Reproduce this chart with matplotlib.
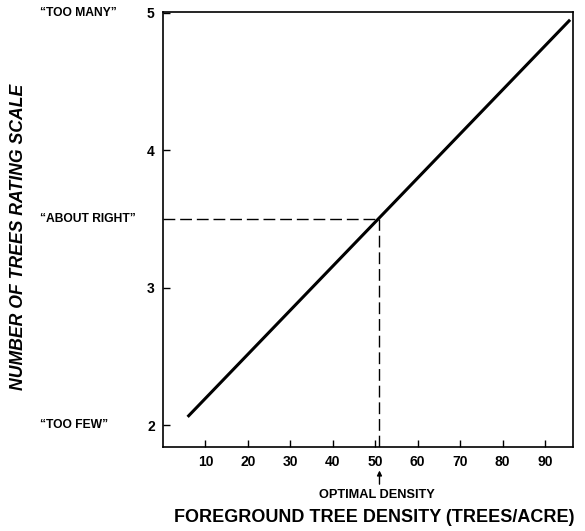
import numpy as np
from matplotlib import pyplot as plt

plt.rcParams['font.family'] = ['Liberation Sans', 'DejaVu Sans']

# rating line (density in trees/acre -> rating scale)
density = [5.8, 95.9]
rating = [2.06, 4.95]
optimal_density = 51
optimal_rating = 3.5

x_ticks = [10, 20, 30, 40, 50, 60, 70, 80, 90]
y_ticks = [2, 3, 4, 5]
scale_labels = ['\u201cTOO FEW\u201d', '\u201cABOUT RIGHT\u201d', '\u201cTOO MANY\u201d']
scale_values = [2, 3.5, 5]

fig = plt.figure(figsize=(5.85, 5.31), dpi=100)
ax = fig.add_axes([0.2786, 0.158, 0.701, 0.819])

ax.plot(density, rating, color='black', lw=2.2, solid_capstyle='butt')
ax.plot([0, optimal_density], [optimal_rating, optimal_rating],
        color='black', lw=1, ls=(0, (8.5, 3.5)))
ax.plot([optimal_density, optimal_density], [1.84, optimal_rating],
        color='black', lw=1, ls=(0, (8.5, 3.5)))

ax.set_xlim(0, 96.6)
ax.set_ylim(1.84, 5.005)
ax.set_xticks(x_ticks)
ax.set_yticks(y_ticks)
ax.tick_params(direction='in', length=5, width=1, labelsize=10, pad=6)
for lab in ax.get_xticklabels() + ax.get_yticklabels():
    lab.set_fontweight('bold')
for s in ax.spines.values():
    s.set_linewidth(1.2)

# rating scale words, placed in figure x / data y
mixed = ax.get_yaxis_transform().__class__(fig.transFigure, ax.transData)
for lbl, v in zip(scale_labels, scale_values):
    ax.text(0.068, v, lbl, transform=mixed,
            ha='left', va='center', fontsize=8.7, fontweight='bold')

ax.annotate('', xy=(optimal_density, 1.69), xytext=(optimal_density, 1.55),
            xycoords='data', annotation_clip=False,
            arrowprops=dict(arrowstyle='-|>', color='black', lw=1,
                            mutation_scale=7))
fig.text(377 / 585, 1 - 495 / 531, 'OPTIMAL DENSITY', ha='center',
         va='center', fontsize=9.2, fontweight='bold')

fig.text(374 / 585, 1 - 518 / 531, 'FOREGROUND TREE DENSITY (TREES/ACRE)',
         ha='center', va='center', fontsize=13, fontweight='bold')
fig.text(19 / 585, 1 - 237 / 531, 'NUMBER OF TREES RATING SCALE',
         ha='center', va='center', rotation=90, fontsize=12.7,
         fontweight='bold', style='italic')

fig.savefig('out.png', dpi=100)
